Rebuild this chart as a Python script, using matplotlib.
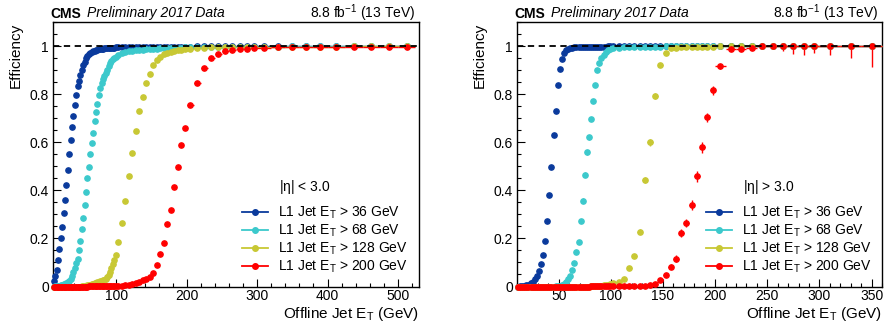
import numpy as np
import matplotlib
matplotlib.use("Agg")
import matplotlib.pyplot as plt
from matplotlib.lines import Line2D
from matplotlib.ticker import MultipleLocator

plt.rcParams['font.family'] = ['Liberation Sans', 'DejaVu Sans']
plt.rcParams['mathtext.fontset'] = 'custom'
plt.rcParams['mathtext.rm'] = 'Liberation Sans'
plt.rcParams['mathtext.it'] = 'Liberation Sans:italic'
plt.rcParams['mathtext.bf'] = 'Liberation Sans:bold'

# ---------------- data ----------------
# offline jet ET bin edges (GeV)
edges_central = [10, 12, 14, 16, 18, 20, 22, 24, 26, 28, 30, 32, 34, 36, 38, 40, 42, 44, 46, 48,
                 50, 52, 54, 56, 58, 60, 62, 64, 66, 68, 70, 72, 74, 76, 78, 80, 82, 84, 86, 88,
                 90, 92, 94, 96, 98, 100,
                 105, 110, 115, 120, 125, 130, 135, 140, 145, 150, 155, 160, 165, 170, 175, 180,
                 185, 190, 195, 200,
                 210, 220, 230, 240, 250, 260, 270, 280, 290, 300,
                 320, 340, 360, 380, 400,
                 425, 450, 475, 500, 525]
edges_forward = [10, 12, 14, 16, 18, 20, 22, 24, 26, 28, 30, 32, 34, 36, 38, 40, 42, 44, 46, 48,
                 50, 52, 54, 56, 58, 60, 62, 64, 66, 68, 70, 72, 74, 76, 78, 80, 82, 84, 86, 88,
                 90, 92, 94, 96, 98, 100,
                 105, 110, 115, 120, 125, 130, 135, 140, 145, 150, 155, 160, 165, 170, 175, 180,
                 185, 190, 195, 200,
                 210, 220, 230, 240, 250, 260, 270, 280, 290, 300,
                 320, 340, 360]

thresholds = [36, 68, 128, 200]
colors = ['#0a3a9c', '#3cc9cc', '#c8c834', '#ff0000']

# |eta| < 3.0
eff36_c = [0.023, 0.043, 0.068, 0.110, 0.154, 0.200, 0.249, 0.306, 0.361, 0.423,
           0.485, 0.549, 0.611, 0.663, 0.709, 0.753, 0.796, 0.832, 0.855, 0.880,
           0.900, 0.920, 0.935, 0.949, 0.958, 0.966, 0.971, 0.975, 0.978, 0.981,
           0.983, 0.985, 0.986, 0.987, 0.988, 0.989, 0.990, 0.990, 0.991, 0.992,
           0.992, 0.993, 0.993, 0.993, 0.994,
           0.994, 0.995, 0.995, 0.995, 0.996, 0.996, 0.996, 0.996, 0.997, 0.997,
           0.997, 0.997, 0.997, 0.998, 0.998, 0.998, 0.998, 0.998, 0.998, 0.998,
           0.998, 0.999, 0.999, 0.999, 0.999, 0.999, 0.999, 0.999, 0.999, 0.999,
           0.999, 0.999, 0.999, 1.000, 1.000,
           1.000, 1.000, 1.000, 1.000, 1.000]
eff68_c = [0.000, 0.001, 0.002, 0.003, 0.004, 0.005, 0.007, 0.009, 0.012, 0.015,
           0.019, 0.023, 0.032, 0.043, 0.059, 0.075, 0.096, 0.115, 0.151, 0.191,
           0.238, 0.284, 0.337, 0.395, 0.450, 0.496, 0.549, 0.595, 0.637, 0.687,
           0.727, 0.759, 0.797, 0.825, 0.848, 0.863, 0.876, 0.889, 0.900, 0.915,
           0.930, 0.938, 0.945, 0.950, 0.955,
           0.964, 0.970, 0.975, 0.978, 0.980, 0.982, 0.984, 0.985, 0.986, 0.987,
           0.988, 0.989, 0.990, 0.990, 0.991, 0.992, 0.992, 0.993, 0.993, 0.994,
           0.995, 0.995, 0.996, 0.996, 0.997, 0.997, 0.997, 0.998, 0.998, 0.998,
           0.998, 0.998, 0.999, 0.999, 0.999,
           0.999, 0.999, 0.999, 0.999, 0.999]
eff128_c = [0.000, 0.000, 0.000, 0.000, 0.000, 0.000, 0.000, 0.000, 0.000, 0.000,
            0.000, 0.000, 0.000, 0.000, 0.000, 0.000, 0.000, 0.000, 0.000, 0.000,
            0.002, 0.002, 0.003, 0.004, 0.005, 0.006, 0.007, 0.009, 0.011, 0.014,
            0.016, 0.018, 0.020, 0.021, 0.023, 0.025, 0.027, 0.030, 0.038, 0.048,
            0.061, 0.075, 0.092, 0.110, 0.133,
            0.184, 0.264, 0.357, 0.458, 0.554, 0.648, 0.731, 0.789, 0.846, 0.885,
            0.921, 0.941, 0.954, 0.966, 0.972, 0.976, 0.979, 0.982, 0.985, 0.987,
            0.989, 0.991, 0.993, 0.994, 0.995, 0.995, 0.996, 0.996, 0.997, 0.997,
            0.998, 0.998, 0.998, 0.998, 0.998,
            0.998, 0.999, 0.999, 0.999, 0.999]
eff200_c = [0.000, 0.000, 0.000, 0.000, 0.000, 0.000, 0.000, 0.000, 0.000, 0.000,
            0.000, 0.000, 0.000, 0.000, 0.000, 0.000, 0.000, 0.000, 0.000, 0.000,
            0.000, 0.000, 0.000, 0.000, 0.000, 0.001, 0.001, 0.001, 0.001, 0.001,
            0.001, 0.001, 0.001, 0.001, 0.001, 0.001, 0.001, 0.001, 0.002, 0.002,
            0.002, 0.002, 0.002, 0.002, 0.002,
            0.003, 0.004, 0.006, 0.008, 0.010, 0.015, 0.020, 0.027, 0.032, 0.038,
            0.055, 0.089, 0.135, 0.181, 0.262, 0.320, 0.415, 0.495, 0.590, 0.659,
            0.754, 0.848, 0.910, 0.950, 0.966, 0.979, 0.983, 0.988, 0.989, 0.990,
            0.993, 0.994, 0.995, 0.996, 0.996,
            0.997, 0.997, 0.998, 0.998, 0.998]

# |eta| > 3.0
eff36_f = [0.000, 0.001, 0.002, 0.003, 0.005, 0.008, 0.013, 0.020, 0.030, 0.043,
           0.064, 0.092, 0.129, 0.188, 0.271, 0.382, 0.495, 0.631, 0.731, 0.837,
           0.903, 0.948, 0.970, 0.982, 0.989, 0.991, 0.993, 0.994, 0.995, 0.995,
           0.996, 0.996, 0.996, 0.997, 0.997, 0.997, 0.997, 0.998, 0.998, 0.998,
           0.998, 0.998, 0.998, 0.999, 0.999,
           0.999, 0.999, 0.999, 0.999, 0.999, 0.999, 0.999, 0.999, 0.999, 0.999,
           0.999, 0.999, 0.999, 0.999, 0.999, 0.999, 0.999, 0.999, 0.999, 0.999,
           1.000, 1.000, 1.000, 1.000, 1.000, 1.000, 1.000, 1.000, 1.000, 1.000,
           1.000, 1.000, 1.000]
eff68_f = [0.000, 0.000, 0.000, 0.000, 0.000, 0.000, 0.000, 0.000, 0.000, 0.000,
           0.000, 0.000, 0.000, 0.000, 0.000, 0.000, 0.000, 0.000, 0.001, 0.002,
           0.003, 0.006, 0.010, 0.018, 0.030, 0.043, 0.070, 0.099, 0.144, 0.186,
           0.271, 0.357, 0.465, 0.558, 0.620, 0.696, 0.772, 0.837, 0.900, 0.930,
           0.952, 0.963, 0.975, 0.983, 0.986,
           0.990, 0.992, 0.994, 0.995, 0.996, 0.997, 0.997, 0.998, 0.998, 0.998,
           0.999, 0.999, 0.999, 0.999, 0.999, 0.999, 0.999, 0.999, 0.999, 0.999,
           0.999, 0.999, 1.000, 1.000, 1.000, 1.000, 1.000, 1.000, 1.000, 1.000,
           1.000, 1.000, 1.000]
eff128_f = [0.000, 0.000, 0.000, 0.000, 0.000, 0.000, 0.000, 0.000, 0.000, 0.000,
            0.000, 0.000, 0.000, 0.000, 0.000, 0.000, 0.000, 0.000, 0.000, 0.000,
            0.000, 0.000, 0.000, 0.000, 0.000, 0.000, 0.000, 0.000, 0.000, 0.000,
            0.000, 0.000, 0.000, 0.000, 0.000, 0.001, 0.001, 0.002, 0.002, 0.003,
            0.004, 0.005, 0.006, 0.008, 0.010,
            0.014, 0.020, 0.033, 0.077, 0.125, 0.228, 0.443, 0.600, 0.793, 0.921,
            0.972, 0.990, 0.993, 0.995, 0.996, 0.997, 0.997, 0.998, 0.998, 0.998,
            0.999, 0.999, 0.999, 0.999, 0.999, 1.000, 1.000, 1.000, 1.000, 1.000,
            1.000, 1.000, 1.000]
eff200_f = [0.000, 0.000, 0.000, 0.000, 0.000, 0.000, 0.000, 0.000, 0.000, 0.000,
            0.000, 0.000, 0.000, 0.000, 0.000, 0.000, 0.000, 0.000, 0.000, 0.000,
            0.000, 0.000, 0.000, 0.000, 0.000, 0.000, 0.000, 0.000, 0.000, 0.000,
            0.000, 0.000, 0.000, 0.000, 0.000, 0.001, 0.001, 0.001, 0.001, 0.001,
            0.001, 0.001, 0.001, 0.001, 0.001,
            0.001, 0.001, 0.002, 0.002, 0.003, 0.003, 0.004, 0.005, 0.010, 0.025,
            0.048, 0.083, 0.115, 0.223, 0.264, 0.340, 0.458, 0.579, 0.703, 0.816,
            0.917, 0.987, 0.989, 0.993, 1.000, 1.000, 1.000, 1.000, 1.000, 1.000,
            1.000, 1.000, 1.000]

# visible statistical uncertainties in the forward region (bin centre, down, up)
err68_f_et = [71, 73, 75, 77, 79, 81]
err68_f = [0.008, 0.010, 0.011, 0.010, 0.010, 0.009]
err128_f_et = [122.5, 127.5, 132.5, 137.5, 142.5, 147.5, 152.5]
err128_f = [0.007, 0.011, 0.014, 0.015, 0.012, 0.007, 0.004]
err200_f_et = [147.5, 152.5, 157.5, 162.5, 167.5, 172.5, 177.5, 182.5, 187.5, 192.5,
               197.5, 205, 215, 225, 235, 245, 255, 265, 275, 285, 295, 310, 330, 350]
err200_f_lo = [0.008, 0.010, 0.012, 0.014, 0.018, 0.018, 0.020, 0.022, 0.022, 0.020,
               0.018, 0.012, 0.006, 0.006, 0.006, 0.010, 0.012, 0.021, 0.034, 0.038,
               0.030, 0.038, 0.050, 0.086]
err200_f_hi = [0.008, 0.010, 0.012, 0.014, 0.018, 0.018, 0.020, 0.022, 0.022, 0.020,
               0.018, 0.010, 0.005, 0.005, 0.004, 0.000, 0.000, 0.000, 0.000, 0.000,
               0.000, 0.000, 0.000, 0.000]

W, H = 886, 322
fig = plt.figure(figsize=(W / 100, H / 100), dpi=100)


def fx(px):
    return px / W


def fy(py):
    return 1 - py / H


def full_err(centers, ets, lo, hi):
    elo = np.zeros(len(centers))
    ehi = np.zeros(len(centers))
    for e, a, b in zip(ets, lo, hi):
        i = np.argmin(np.abs(centers - e))
        elo[i] = a
        ehi[i] = b
    return [elo, ehi]


def panel(x0, x1, edges, effs, errs, xlim, major, minor, eta_label, leg_x):
    ax = fig.add_axes([fx(x0), fy(286.5), fx(x1 - x0), (286.5 - 22) / H])
    edges = np.array(edges, dtype=float)
    centers = 0.5 * (edges[1:] + edges[:-1])
    half = 0.5 * (edges[1:] - edges[:-1])
    for eff, err, c in zip(effs, errs, colors):
        yerr = None
        if err is not None:
            yerr = full_err(centers, *err)
        ax.errorbar(centers, eff, xerr=half, yerr=yerr, fmt='o', ms=3.8, color=c,
                    mec=c, elinewidth=1.0, capsize=0, clip_on=False, zorder=3)
    ax.axhline(1.0, color='black', ls=(0, (3.5, 2.5)), lw=1.3, zorder=5)
    ax.set_xlim(*xlim)
    ax.set_ylim(0, 1.1)
    ax.xaxis.set_major_locator(MultipleLocator(major))
    ax.xaxis.set_minor_locator(MultipleLocator(minor))
    ax.yaxis.set_minor_locator(MultipleLocator(0.05))
    ax.set_yticks([0, 0.2, 0.4, 0.6, 0.8, 1.0])
    ax.set_yticklabels(['0', '0.2', '0.4', '0.6', '0.8', '1'])
    ax.tick_params(which='both', direction='in', top=False, right=False,
                   labelsize=10, width=0.8)
    ax.tick_params(which='major', length=6, pad=3)
    ax.tick_params(which='minor', length=3)
    ax.tick_params(axis='x', pad=2)
    for s in ax.spines.values():
        s.set_linewidth(1.0)
    fig.text(fx(x0 - 37), fy(23), 'Efficiency', fontsize=11, rotation=90,
             ha='center', va='top')
    ax.set_xlabel(r'Offline Jet E$_\mathregular{T}$ (GeV)', fontsize=11, loc='right',
                  labelpad=1)
    ax.text(fx(leg_x), fy(187), eta_label, transform=fig.transFigure, fontsize=10,
            va='center', ha='left')
    handles = [Line2D([], [], color=c, marker='o', ms=4, lw=1.3) for c in colors]
    labels = [r'L1 Jet E$_\mathregular{T}$ > %d GeV' % t for t in thresholds]
    ax.legend(handles, labels, loc='upper left', frameon=False, fontsize=10,
              bbox_to_anchor=(fx(leg_x - 37), fy(205)), bbox_transform=fig.transFigure,
              borderpad=0, borderaxespad=0, handlelength=1.9, handletextpad=0.7,
              labelspacing=0.1)
    fig.text(fx(x0 - 3), fy(17.5), 'CMS', fontsize=10, fontweight='bold',
             ha='left', va='baseline')
    fig.text(fx(x0 + 34), fy(17.5), 'Preliminary 2017 Data', fontsize=10,
             style='italic', ha='left', va='baseline')
    fig.text(fx(x1 - 4), fy(17.5), r'8.8 fb$^\mathregular{-1}$ (13 TeV)', fontsize=10,
             ha='right', va='baseline')
    return ax


panel(53, 419, edges_central, [eff36_c, eff68_c, eff128_c, eff200_c],
      [None, None, None, None], (10, 530), 100, 20, r'|$\mathregular{\eta}$| < 3.0', 279)
panel(517, 882, edges_forward, [eff36_f, eff68_f, eff128_f, eff200_f],
      [None,
       (err68_f_et, err68_f, err68_f),
       (err128_f_et, err128_f, err128_f),
       (err200_f_et, err200_f_lo, err200_f_hi)],
      (10, 360), 50, 10, r'|$\mathregular{\eta}$| > 3.0', 743)

fig.savefig('out.png', dpi=100)
